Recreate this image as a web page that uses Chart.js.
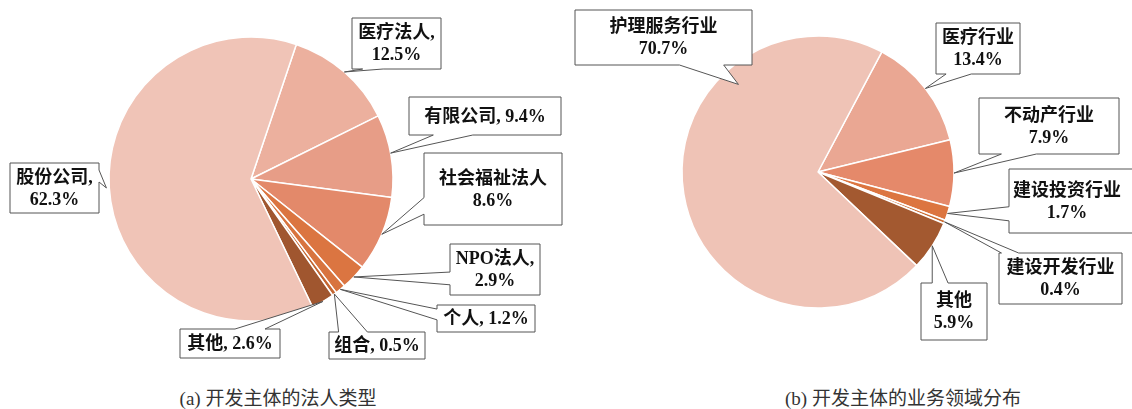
<!DOCTYPE html>
<html>
<head>
<meta charset="utf-8">
<script src="https://cdn.jsdelivr.net/npm/chart.js@4.4.1/dist/chart.umd.min.js"></script>
<style>
  html, body { margin: 0; padding: 0; background: #fff; }
  #wrap { position: relative; width: 1132px; height: 409px; overflow: hidden; }
  canvas { position: absolute; top: 0; }
  .cap { position: absolute; top: 383px; font: 19px "Liberation Serif", "Noto Sans CJK SC", serif; color: #333; text-align: center; width: 566px; }
</style>
</head>
<body>
<div id="wrap">
  <canvas id="chartA" width="566" height="380" style="left:0"></canvas>
  <canvas id="chartB" width="566" height="380" style="left:566px"></canvas>
  <div class="cap" style="left:-5px">(a) 开发主体的法人类型</div>
  <div class="cap" style="left:620px">(b) 开发主体的业务领域分布</div>
</div>
<script>
// (a) legal form of developers, clockwise from the top-right
const legalCats = ['医疗法人', '有限公司', '社会福祉法人', 'NPO法人', '个人', '组合', '其他', '股份公司'];
const legalPct = [12.5, 9.4, 8.6, 2.9, 1.2, 0.5, 2.6, 62.3];
const legalSep = [',\n', ', ', '\n', ',\n', ', ', ', ', ', ', ',\n'];
const legalColors = ['#ECB09E', '#E79D87', '#E3896A', '#DB7541', '#D8743F', '#C46631', '#A0562F', '#F0C4B7'];

// (b) business field of developers
const fieldCats = ['医疗行业', '不动产行业', '建设投资行业', '建设开发行业', '其他', '护理服务行业'];
const fieldPct = [13.4, 7.9, 1.7, 0.4, 5.9, 70.7];
const fieldSep = ['\n', '\n', '\n', '\n', '\n', '\n'];
const fieldColors = ['#EAA793', '#E5896A', '#DC7540', '#C9692F', '#A35930', '#EFC3B6'];

// callout boxes: [x, y, w, h], side of the pointer, base along that side, where on the slice it points
const legalCallouts = [
  { box: [352, 18, 89, 51], side: 'b', f: [0.12, 0.35], at: 0.5, rf: 1.0 },
  { box: [409, 97, 152, 38], side: 'b', f: [0.16, 0.42], at: 0.47, rf: 1.0 },
  { box: [424, 153, 138, 72], side: 'l', f: [0.62, 0.85], at: 0.5, rf: 1.0 },
  { box: [450, 244, 90, 51], side: 'l', f: [0.55, 0.8], at: 0.5, rf: 1.0 },
  { box: [437, 305, 98, 27], side: 'l', f: [0.15, 0.55], at: 0.5, rf: 1.0 },
  { box: [329, 332, 96, 27], side: 't', f: [0.1, 0.4], at: 0.5, rf: 1.0 },
  { box: [180, 329, 100, 29], side: 't', f: [0.55, 0.85], at: 0.5, rf: 1.0 },
  { box: [10, 163, 89, 50], side: 'r', f: [0.14, 0.38], at: 0.5, rf: 1.02 }
];
const fieldCallouts = [
  { box: [370, 23, 84, 51], side: 'b', f: [0.12, 0.42], at: 0.5, rf: 1.0 },
  { box: [413, 98, 140, 56], side: 'b', f: [0.16, 0.41], at: 0.5, rf: 1.0 },
  { box: [443, 169, 130, 64], side: 'l', f: [0.59, 0.81], at: 0.5, rf: 1.0, tx: 501 },
  { box: [433, 253, 123, 51], side: 't', f: [0.02, 0.16], at: 0.5, rf: 1.0 },
  { box: [355, 283, 66, 57], side: 't', f: [0.17, 0.41], at: 0.5, rf: 1.0 },
  { box: [9, 10, 177, 55], side: 'b', f: [0.59, 0.84], at: 0.724, rf: 0.87 }
];

const labelFont = 'bold 18px "Liberation Serif", "Noto Sans CJK SC", serif';

function calloutPath(ctx, c, tip) {
  const [x, y, w, h] = c.box;
  const [a, b] = c.f;
  ctx.beginPath();
  ctx.moveTo(x, y);
  if (c.side === 't') { ctx.lineTo(x + a * w, y); ctx.lineTo(tip.x, tip.y); ctx.lineTo(x + b * w, y); }
  ctx.lineTo(x + w, y);
  if (c.side === 'r') { ctx.lineTo(x + w, y + a * h); ctx.lineTo(tip.x, tip.y); ctx.lineTo(x + w, y + b * h); }
  ctx.lineTo(x + w, y + h);
  if (c.side === 'b') { ctx.lineTo(x + b * w, y + h); ctx.lineTo(tip.x, tip.y); ctx.lineTo(x + a * w, y + h); }
  ctx.lineTo(x, y + h);
  if (c.side === 'l') { ctx.lineTo(x, y + b * h); ctx.lineTo(tip.x, tip.y); ctx.lineTo(x, y + a * h); }
  ctx.closePath();
}

const calloutPlugin = {
  id: 'callouts',
  afterDatasetsDraw(chart, args, opts) {
    const ctx = chart.ctx;
    const meta = chart.getDatasetMeta(0);
    const labels = chart.data.labels;
    const values = chart.data.datasets[0].data;
    meta.data.forEach((arc, i) => {
      const c = opts.layout[i];
      const p = arc.getProps(['x', 'y', 'startAngle', 'endAngle', 'outerRadius'], true);
      const ang = p.startAngle + c.at * (p.endAngle - p.startAngle);
      const tip = { x: p.x + Math.cos(ang) * p.outerRadius * c.rf, y: p.y + Math.sin(ang) * p.outerRadius * c.rf };
      ctx.save();
      calloutPath(ctx, c, tip);
      ctx.fillStyle = '#ffffff';
      ctx.fill();
      ctx.lineWidth = 1;
      ctx.strokeStyle = '#555555';
      ctx.stroke();
      const lines = (labels[i] + opts.sep[i] + values[i].toFixed(1) + '%').split('\n');
      ctx.font = labelFont;
      ctx.fillStyle = '#111111';
      ctx.textAlign = 'center';
      ctx.textBaseline = 'middle';
      const [x, y, w, h] = c.box;
      const lh = 22;
      const y0 = y + h / 2 - (lines.length - 1) * lh / 2 + 1;
      const cx = c.tx || (x + w / 2);
      lines.forEach((t, k) => ctx.fillText(t, cx, y0 + k * lh));
      ctx.restore();
    });
  }
};

function makePie(id, cats, vals, colors, rotation, radius, padding, layout, sep) {
  return new Chart(document.getElementById(id), {
    type: 'pie',
    data: {
      labels: cats,
      datasets: [{
        data: vals,
        backgroundColor: colors,
        borderColor: '#ffffff',
        borderWidth: 1.5,
        radius: radius
      }]
    },
    options: {
      animation: false,
      responsive: false,
      rotation: rotation,
      layout: { padding: padding },
      plugins: {
        legend: { display: false },
        tooltip: { enabled: false },
        callouts: { layout: layout, sep: sep }
      }
    },
    plugins: [calloutPlugin]
  });
}

const chartA = makePie('chartA', legalCats, legalPct, legalColors, 18.6, 142,
  { left: 101, right: 165, top: 29, bottom: 51 }, legalCallouts, legalSep);
const chartB = makePie('chartB', fieldCats, fieldPct, fieldColors, 28, 136,
  { left: 102, right: 164, top: 22, bottom: 58 }, fieldCallouts, fieldSep);
</script>
</body>
</html>
